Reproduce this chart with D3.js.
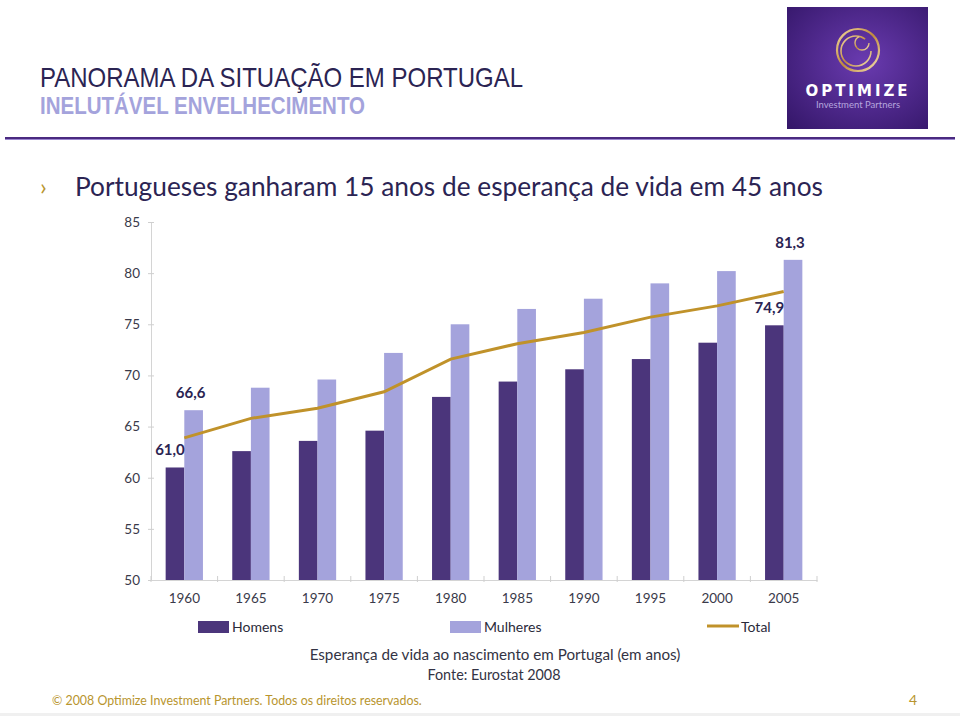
<!DOCTYPE html>
<html>
<head>
<meta charset="utf-8">
<script src="https://cdn.jsdelivr.net/npm/d3@7"></script>
<style>
  html, body { margin: 0; padding: 0; background: #fff; }
  svg { display: block; }
</style>
</head>
<body>
<svg id="chart" width="960" height="716"></svg>
<script>
// ---- data ----
const years = ["1960","1965","1970","1975","1980","1985","1990","1995","2000","2005"];
const homens   = [61.0, 62.6, 63.6, 64.6, 67.9, 69.4, 70.6, 71.6, 73.2, 74.9];
const mulheres = [66.6, 68.8, 69.6, 72.2, 75.0, 76.5, 77.5, 79.0, 80.2, 81.3];
const total    = [63.9, 65.8, 66.8, 68.4, 71.6, 73.1, 74.2, 75.7, 76.8, 78.2];
const yTicks = [50, 55, 60, 65, 70, 75, 80, 85];
const labelled = [
  {series: "homens", index: 0, text: "61,0"},
  {series: "mulheres", index: 0, text: "66,6"},
  {series: "homens", index: 9, text: "74,9"},
  {series: "mulheres", index: 9, text: "81,3"}
];
const legendItems = ["Homens", "Mulheres", "Total"];

// ---- styles ----
const C_DARK = "#2b2453", C_H = "#4b357b", C_M = "#a4a3dc", C_T = "#c0922a", C_GOLD = "#b8952e";
const FONT = "Lato, 'Noto Sans', sans-serif";
const NARROW = "'Liberation Sans Narrow', 'Liberation Sans', Arial, sans-serif";

const svg = d3.select("#chart");

function fit(sel, w) {
  const node = sel.node();
  const fs = parseFloat(sel.attr("font-size"));
  const cur = node.getComputedTextLength();
  if (cur > 0) sel.attr("font-size", (fs * w / cur).toFixed(2));
  return sel;
}
function squeeze(sel, w) {
  const cur = sel.node().getComputedTextLength();
  if (cur > w) sel.attr("textLength", w).attr("lengthAdjust", "spacingAndGlyphs");
  else fit(sel, w);
  return sel;
}

// ---- header ----
squeeze(svg.append("text").attr("x", 40).attr("y", 87).attr("font-family", NARROW)
  .attr("font-size", 28).attr("fill", C_DARK).text("PANORAMA DA SITUAÇÃO EM PORTUGAL"), 483);
squeeze(svg.append("text").attr("x", 40).attr("y", 114).attr("font-family", NARROW)
  .attr("font-size", 23).attr("font-weight", "bold").attr("fill", C_M).text("INELUTÁVEL ENVELHECIMENTO"), 325);

svg.append("line").attr("x1", 5).attr("x2", 955).attr("y1", 138).attr("y2", 138)
  .attr("stroke", "#4a2a80").attr("stroke-width", 2);
svg.append("line").attr("x1", 5).attr("x2", 955).attr("y1", 139.5).attr("y2", 139.5)
  .attr("stroke", "#9b86d0").attr("stroke-width", 1);

// logo
const defs = svg.append("defs");
const rg = defs.append("radialGradient").attr("id", "lg").attr("cx", "55%").attr("cy", "45%").attr("r", "75%");
rg.append("stop").attr("offset", "0%").attr("stop-color", "#6a3bb0");
rg.append("stop").attr("offset", "100%").attr("stop-color", "#35176a");
const gg = defs.append("linearGradient").attr("id", "gold").attr("x1", "0").attr("y1", "0").attr("x2", "1").attr("y2", "1");
gg.append("stop").attr("offset", "0%").attr("stop-color", "#f2d9a0");
gg.append("stop").attr("offset", "50%").attr("stop-color", "#c08a3c");
gg.append("stop").attr("offset", "100%").attr("stop-color", "#f5e2b5");
svg.append("rect").attr("x", 787).attr("y", 7).attr("width", 141).attr("height", 122).attr("fill", "url(#lg)");
svg.append("circle").attr("cx", 858).attr("cy", 50).attr("r", 21).attr("fill", "none")
  .attr("stroke", "url(#gold)").attr("stroke-width", 2.2);
svg.append("circle").attr("cx", 856).attr("cy", 51).attr("r", 15).attr("fill", "none")
  .attr("stroke", "url(#gold)").attr("stroke-width", 1.6).attr("stroke-dasharray", "80 20");
svg.append("circle").attr("cx", 862).attr("cy", 43).attr("r", 7).attr("fill", "none")
  .attr("stroke", "url(#gold)").attr("stroke-width", 1.4).attr("stroke-dasharray", "30 14");
svg.append("text").attr("x", 858).attr("y", 96).attr("text-anchor", "middle")
  .attr("font-family", "'DejaVu Sans', sans-serif").attr("font-weight", "bold").attr("font-size", 15)
  .attr("letter-spacing", 3).attr("fill", "#fff").text("OPTIMIZE");
svg.append("text").attr("x", 858).attr("y", 108).attr("text-anchor", "middle")
  .attr("font-family", FONT).attr("font-size", 9.5).attr("fill", "#b6a6de").text("Investment Partners");

// headline
svg.append("text").attr("x", 40).attr("y", 195).attr("font-family", FONT).attr("font-size", 24)
  .attr("fill", C_GOLD).text("›");
squeeze(svg.append("text").attr("x", 75).attr("y", 196).attr("font-family", FONT).attr("font-size", 26.5)
  .attr("fill", C_DARK).text("Portugueses ganharam 15 anos de esperança de vida em 45 anos"), 748);

// ---- chart ----
const x0 = 151, x1 = 817, yTop = 222, yBot = 580;
const x = d3.scaleBand().domain(years).range([x0, x1]).paddingInner(0).paddingOuter(0);
const y = d3.scaleLinear().domain([50, 85]).range([yBot, yTop]);
const barW = x.bandwidth() * 0.28;

const g = svg.append("g");

// y axis
const yAxis = g.append("g").attr("transform", `translate(${x0},0)`)
  .call(d3.axisLeft(y).tickValues(yTicks).tickSize(3).tickPadding(8).tickFormat(d3.format("d")));
yAxis.select(".domain").attr("stroke", "#d4d4d4");
yAxis.selectAll(".tick line").attr("stroke", "#cfcfcf").attr("x2", 3).attr("x1", -3);
yAxis.selectAll(".tick text").attr("font-family", FONT).attr("font-size", 13.5).attr("fill", "#3a3a4a");

// x axis
const xAxis = g.append("g").attr("transform", `translate(0,${yBot})`)
  .call(d3.axisBottom(x).tickSize(0).tickPadding(13));
xAxis.select(".domain").attr("stroke", "#d4d4d4");
xAxis.selectAll(".tick text").attr("font-family", FONT).attr("font-size", 13.5).attr("fill", "#3a3a4a");
// boundary ticks
const bounds = years.map(yv => x(yv)).concat([x1]);
g.append("g").selectAll("line").data(bounds).join("line")
  .attr("x1", d => d).attr("x2", d => d).attr("y1", yBot - 4).attr("y2", yBot + 2)
  .attr("stroke", "#cfcfcf");

// bars
const cx = d => x(d) + x.bandwidth() / 2;
g.append("g").selectAll("rect").data(years).join("rect")
  .attr("x", (d) => cx(d) - barW).attr("width", barW)
  .attr("y", (d, i) => y(homens[i])).attr("height", (d, i) => yBot - y(homens[i]))
  .attr("fill", C_H);
g.append("g").selectAll("rect").data(years).join("rect")
  .attr("x", (d) => cx(d)).attr("width", barW)
  .attr("y", (d, i) => y(mulheres[i])).attr("height", (d, i) => yBot - y(mulheres[i]))
  .attr("fill", C_M);

// total line
const line = d3.line().x((d, i) => cx(years[i])).y(d => y(d));
g.append("path").datum(total).attr("d", line).attr("fill", "none")
  .attr("stroke", C_T).attr("stroke-width", 3);

// data labels
g.append("g").selectAll("text").data(labelled).join("text")
  .attr("x", d => cx(years[d.index]) + (d.series === "homens" ? -barW / 2 - 5 : barW / 2 - 3))
  .attr("y", d => y(d.series === "homens" ? homens[d.index] : mulheres[d.index]) - 12)
  .attr("text-anchor", "middle").attr("font-family", FONT).attr("font-weight", "bold")
  .attr("font-size", 15).attr("fill", C_DARK).text(d => d.text);

// ---- legend ----
const lg = svg.append("g");
const legendX = [198, 450, 707];
legendItems.forEach((name, i) => {
  if (i < 2) {
    lg.append("rect").attr("x", legendX[i]).attr("y", 621).attr("width", 31).attr("height", 12)
      .attr("fill", i === 0 ? C_H : C_M);
  } else {
    lg.append("line").attr("x1", legendX[i]).attr("x2", legendX[i] + 32).attr("y1", 626).attr("y2", 626)
      .attr("stroke", C_T).attr("stroke-width", 3);
  }
  lg.append("text").attr("x", legendX[i] + 34).attr("y", 632)
    .attr("font-family", FONT).attr("font-size", 14).attr("fill", "#2a2a3a").text(name);
});

// caption
fit(svg.append("text").attr("x", 495).attr("y", 660).attr("text-anchor", "middle")
  .attr("font-family", FONT).attr("font-size", 15).attr("fill", "#333344")
  .text("Esperança de vida ao nascimento em Portugal (em anos)"), 371);
fit(svg.append("text").attr("x", 494).attr("y", 680).attr("text-anchor", "middle")
  .attr("font-family", FONT).attr("font-size", 15).attr("fill", "#333344")
  .text("Fonte: Eurostat 2008"), 133);

// footer
svg.append("rect").attr("x", 0).attr("y", 713).attr("width", 960).attr("height", 3).attr("fill", "#f0f0f0");
fit(svg.append("text").attr("x", 52).attr("y", 705).attr("font-family", FONT).attr("font-size", 14)
  .attr("fill", C_GOLD).text("© 2008 Optimize Investment Partners. Todos os direitos reservados."), 370);
svg.append("text").attr("x", 913).attr("y", 705).attr("text-anchor", "middle")
  .attr("font-family", FONT).attr("font-size", 14).attr("fill", C_GOLD).text("4");
</script>
</body>
</html>
